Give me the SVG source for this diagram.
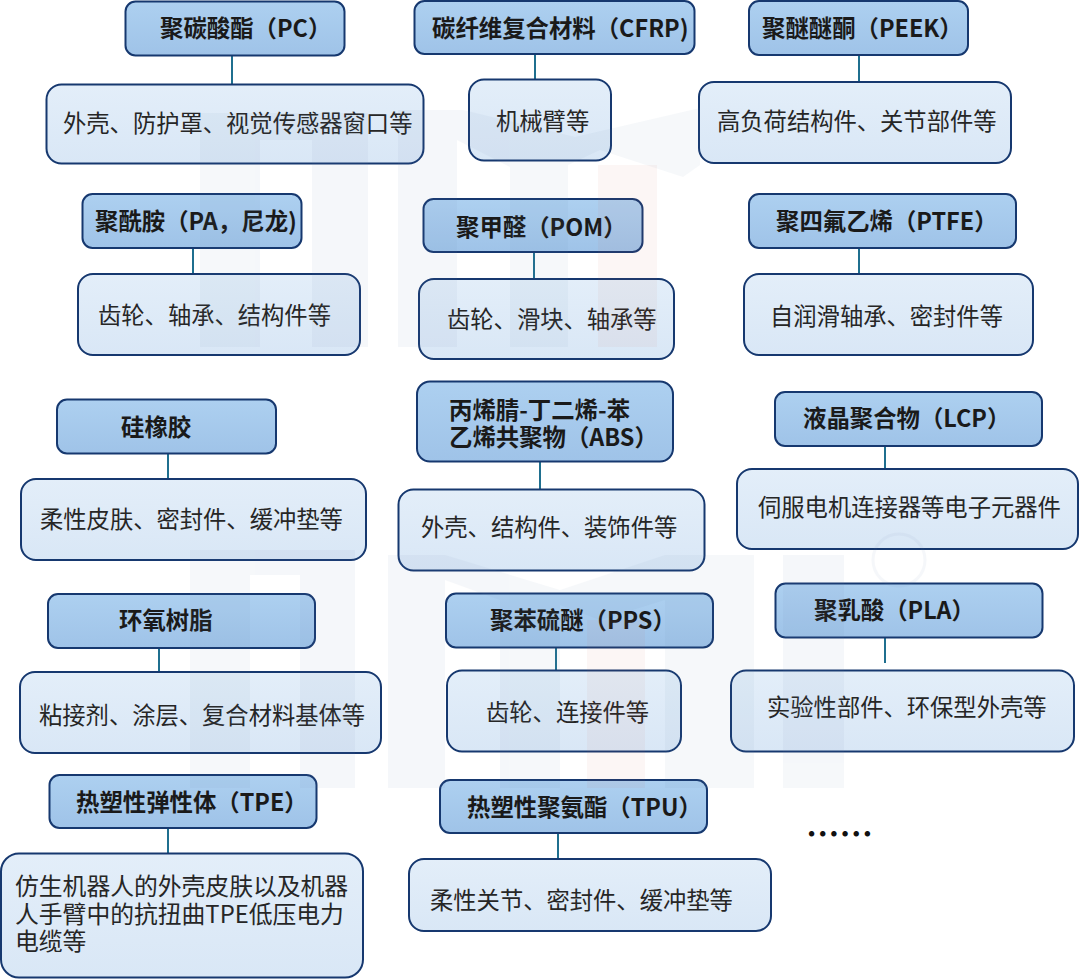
<svg xmlns="http://www.w3.org/2000/svg" width="1080" height="979" viewBox="0 0 1080 979">
<style>
.h rect{fill:url(#hg);stroke:#16386f;stroke-width:2}
.b rect{fill:url(#bg);stroke:#16386f;stroke-width:2}
text{font-family:"Noto Sans CJK SC","Noto Sans",sans-serif;fill:#1a1a1a}
.h text{font-size:23.4px;font-weight:700;transform:translateY(.5px)}
.b text{font-size:23.3px;font-weight:400;fill:#262626;transform:translateY(1px)}
#connectors line{stroke:#1f6f8f;stroke-width:2}
</style>
<defs>
<linearGradient id="hg" x1="0" y1="0" x2="0" y2="1"><stop offset="0" stop-color="#add0f0"/><stop offset="1" stop-color="#9fc3e8"/></linearGradient>
<linearGradient id="bg" x1="0" y1="0" x2="0" y2="1"><stop offset="0" stop-color="#e3eef9"/><stop offset="1" stop-color="#d9e7f6"/></linearGradient>
</defs>
<rect width="1080" height="979" fill="#ffffff"/>
<g id="connectors">
<line x1="232" y1="56" x2="232" y2="84"/><line x1="535" y1="55" x2="535" y2="79"/><line x1="859" y1="56" x2="859" y2="82"/>
<line x1="193" y1="249" x2="193" y2="274"/><line x1="534" y1="253" x2="534" y2="279"/><line x1="859" y1="249" x2="859" y2="274"/>
<line x1="168" y1="454" x2="168" y2="479"/><line x1="540" y1="462" x2="540" y2="489"/><line x1="885" y1="446" x2="885" y2="469"/>
<line x1="159" y1="648" x2="159" y2="672"/><line x1="556" y1="648" x2="556" y2="672"/><line x1="885" y1="638" x2="885" y2="663"/>
<line x1="168" y1="829" x2="168" y2="853"/><line x1="558" y1="834" x2="558" y2="859"/>
</g>
<g id="n1" class="h"><rect x="125.500" y="1.500" width="219" height="54" rx="10"/><text x="160" y="36">聚碳酸酯（PC）</text></g>
<g id="n1b" class="b"><rect x="46.500" y="84.500" width="377" height="79" rx="15"/><text x="63" y="131">外壳、防护罩、视觉传感器窗口等</text></g>
<g id="n2" class="h"><rect x="414.500" y="1" width="280" height="53" rx="10"/><text x="432" y="36">碳纤维复合材料（CFRP)</text></g>
<g id="n2b" class="b"><rect x="469" y="79.500" width="142" height="81" rx="15"/><text x="496" y="129">机械臂等</text></g>
<g id="n3" class="h"><rect x="749" y="1" width="219" height="54" rx="10"/><text x="762" y="36">聚醚醚酮（PEEK）</text></g>
<g id="n3b" class="b"><rect x="699" y="82" width="312" height="81" rx="15"/><text x="717" y="129">高负荷结构件、关节部件等</text></g>
<g id="n4" class="h"><rect x="82.500" y="194" width="219" height="54" rx="10"/><text x="95" y="229">聚酰胺（PA，尼龙)</text></g>
<g id="n4b" class="b"><rect x="78" y="274" width="282" height="81" rx="15"/><text x="98" y="323">齿轮、轴承、结构件等</text></g>
<g id="n5" class="h"><rect x="423.500" y="199" width="219" height="53" rx="10"/><text x="456" y="235">聚甲醛（POM）</text></g>
<g id="n5b" class="b"><rect x="419" y="279" width="255" height="80" rx="15"/><text x="447" y="327">齿轮、滑块、轴承等</text></g>
<g id="n6" class="h"><rect x="749" y="194" width="267" height="54" rx="10"/><text x="776" y="229">聚四氟乙烯（PTFE）</text></g>
<g id="n6b" class="b"><rect x="744" y="274" width="289" height="81" rx="15"/><text x="770" y="324">自润滑轴承、密封件等</text></g>
<g id="n7" class="h"><rect x="57" y="399.500" width="219" height="54" rx="10"/><text x="121" y="435">硅橡胶</text></g>
<g id="n7b" class="b"><rect x="21" y="479" width="345" height="81" rx="15"/><text x="40" y="527">柔性皮肤、密封件、缓冲垫等</text></g>
<g id="n8" class="h"><rect x="417" y="381.500" width="256" height="80" rx="13"/><text x="449" y="418">丙烯腈-丁二烯-苯<tspan x="449" dy="27">乙烯共聚物（ABS）</tspan></text></g>
<g id="n8b" class="b"><rect x="398.500" y="489.500" width="306" height="81" rx="15"/><text x="421" y="535">外壳、结构件、装饰件等</text></g>
<g id="n9" class="h"><rect x="775" y="392" width="267" height="54" rx="10"/><text x="803" y="426">液晶聚合物（LCP）</text></g>
<g id="n9b" class="b"><rect x="737" y="469" width="341" height="80" rx="15"/><text x="758" y="515">伺服电机连接器等电子元器件</text></g>
<g id="n10" class="h"><rect x="48" y="594" width="267" height="54" rx="10"/><text x="119" y="628">环氧树脂</text></g>
<g id="n10b" class="b"><rect x="20" y="672" width="361" height="81" rx="15"/><text x="39" y="723">粘接剂、涂层、复合材料基体等</text></g>
<g id="n11" class="h"><rect x="446" y="593.500" width="267" height="54" rx="10"/><text x="490" y="628">聚苯硫醚（PPS）</text></g>
<g id="n11b" class="b"><rect x="447" y="670.500" width="234" height="81" rx="15"/><text x="486" y="720">齿轮、连接件等</text></g>
<g id="n12" class="h"><rect x="775.500" y="583.500" width="267" height="54" rx="10"/><text x="814" y="618">聚乳酸（PLA）</text></g>
<g id="n12b" class="b"><rect x="731" y="670.500" width="343" height="81" rx="15"/><text x="767" y="715">实验性部件、环保型外壳等</text></g>
<g id="n13" class="h"><rect x="49.500" y="775" width="267" height="53" rx="10"/><text x="76" y="810">热塑性弹性体（TPE）</text></g>
<g id="n13b" class="b"><rect x="1" y="853.500" width="362" height="124" rx="18"/><text x="15" y="894" style="font-size:23.800px">仿生机器人的外壳皮肤以及机器<tspan x="15" dy="28">人手臂中的抗扭曲TPE低压电力</tspan><tspan x="15" dy="27">电缆等</tspan></text></g>
<g id="n14" class="h"><rect x="440" y="780" width="267" height="53" rx="10"/><text x="467" y="815">热塑性聚氨酯（TPU）</text></g>
<g id="n14b" class="b"><rect x="409" y="859" width="362" height="72" rx="15"/><text x="430" y="908">柔性关节、密封件、缓冲垫等</text></g>
<text id="more" x="806" y="846" style="font-size:33.500px;font-weight:700;fill:#111">……</text>
<g id="watermark" fill="#6c86b0" opacity="0.06">
<path d="M200 113H368V347H312V140H260V347H200Z"/>
<path d="M398 110H463L575 137L700 108V165L683 177L600 150L568 165V347H510V167L457 140V347H398Z"/>
<path d="M190 550H355V788H300V575H250V788H190Z"/>
<path d="M388 555H445L560 590L665 555H754V788H665V600L600 620L560 605V788H500V600L445 580V788H388Z"/>
<rect x="783" y="555" width="61" height="233"/>
<circle cx="899" cy="560" r="26" fill="none" stroke="#6c86b0" stroke-width="3"/>
</g>
<g id="watermark-red" fill="#d06050" opacity="0.06"><rect x="598" y="165" width="59" height="182"/><rect x="587" y="620" width="58" height="168"/></g>
</svg>
